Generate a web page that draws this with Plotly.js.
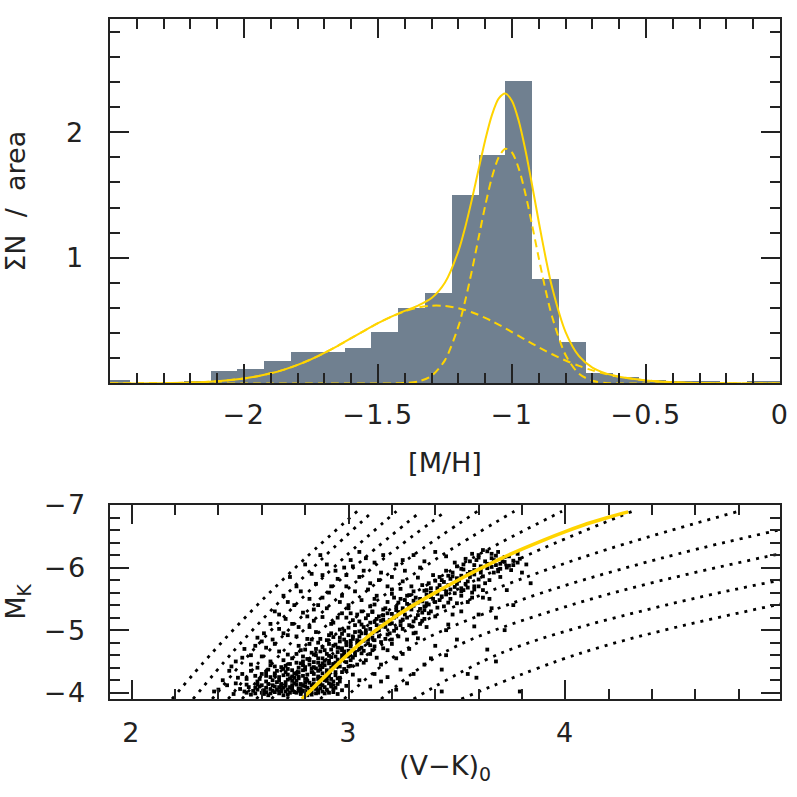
<!DOCTYPE html>
<html>
<head>
<meta charset="utf-8">
<script src="https://cdn.plot.ly/plotly-3.0.1.min.js"></script>
<style>
html,body{margin:0;padding:0;background:#fff;}
#chart{width:797px;height:797px;}
#chart .xtick text, #chart .x2tick text, #chart .ytick text, #chart .y2tick text{letter-spacing:1.5px;}
</style>
</head>
<body>
<div id="chart"></div>
<script>
// ---------- top panel: metallicity distribution ----------
const metalBinCenters = [-2.475,-2.175,-2.075,-1.975,-1.875,-1.775,-1.675,-1.575,-1.475,-1.375,-1.275,-1.175,-1.075,-0.975,-0.875,-0.775,-0.675,-0.575,-0.475,-0.375,-0.275,-0.075,0.025];
const metalBinHeights = [0.025,0.02,0.10,0.115,0.18,0.25,0.25,0.285,0.41,0.60,0.72,1.50,1.82,2.41,0.83,0.33,0.085,0.05,0.03,0.02,0.02,0.02,0.02];

const fitX = [-2.5,-2.4,-2.3,-2.2,-2.1,-2.0,-1.95,-1.9,-1.85,-1.8,-1.75,-1.7,-1.65,-1.6,-1.55,-1.5,-1.45,-1.4,-1.35,-1.3,-1.25,-1.2,-1.175,-1.15,-1.125,-1.1,-1.075,-1.05,-1.025,-1.0,-0.975,-0.95,-0.925,-0.9,-0.875,-0.85,-0.8,-0.75,-0.7,-0.65,-0.6,-0.55,-0.5,-0.45,-0.4,-0.35,-0.3,-0.2,-0.1,0];
const fitNarrow = [0,0,0,0,0,0,0,0,0,0,0,0,0,0,0,0.0001,0.0006,0.0034,0.0161,0.0609,0.1857,0.4542,0.655,0.894,1.155,1.414,1.639,1.798,1.868,1.838,1.712,1.510,1.261,0.997,0.747,0.529,0.226,0.0774,0.0214,0.0047,0.0008,0.0001,0,0,0,0,0,0,0,0];
const fitBroad = [0.0002,0.0008,0.0025,0.0070,0.0175,0.0396,0.0573,0.0807,0.1106,0.1477,0.1921,0.2432,0.2999,0.3602,0.4212,0.4796,0.5319,0.5744,0.6041,0.6187,0.6170,0.5993,0.5848,0.5668,0.5458,0.5221,0.4961,0.4683,0.4391,0.4091,0.3785,0.3479,0.3177,0.2882,0.2597,0.2325,0.1827,0.1397,0.1041,0.0755,0.0533,0.0367,0.0246,0.0160,0.0102,0.0063,0.0038,0.0013,0.0004,0.0001];
const fitTotal = [0.0002,0.0008,0.0025,0.0070,0.0175,0.0396,0.0573,0.0807,0.1106,0.1477,0.1921,0.2432,0.2999,0.3602,0.4212,0.4797,0.5325,0.5778,0.6202,0.6796,0.8027,1.0535,1.2398,1.4608,1.7008,1.9361,2.1351,2.2663,2.3071,2.2471,2.0905,1.8579,1.5787,1.2852,1.0067,0.7615,0.4087,0.2171,0.1255,0.0802,0.0541,0.0368,0.0246,0.0160,0.0102,0.0063,0.0038,0.0013,0.0004,0.0001];

// ---------- bottom panel: CMD ----------
const isoMK = [-3.9,-4.65,-5.4,-6.15,-6.9];
const isoVK = [
 [2.186,2.374,2.579,2.801,3.040],
 [2.283,2.466,2.666,2.881,3.113],
 [2.371,2.552,2.754,2.977,3.221],
 [2.445,2.628,2.838,3.073,3.335],
 [2.509,2.695,2.914,3.165,3.449],
 [2.575,2.770,3.005,3.280,3.595],
 [2.645,2.850,3.105,3.410,3.765],
 [2.715,2.935,3.220,3.570,3.985],
 [2.790,3.035,3.370,3.795,4.310],
 [2.870,3.103,3.503,4.068,4.800],
 [2.980,3.243,3.730,4.443,5.380],
 [3.150,3.444,4.025,4.894,6.050],
 [3.300,3.716,4.463,5.540,6.950],
 [3.520,4.087,4.968,6.160,7.670]
];

const ridgeVK = [2.785,2.90,3.00,3.10,3.20,3.30,3.40,3.50,3.60,3.70,3.80,3.90,4.00,4.10,4.20,4.29];
const ridgeMK = [-3.90,-4.29,-4.62,-4.93,-5.18,-5.40,-5.60,-5.79,-5.97,-6.14,-6.295,-6.44,-6.575,-6.70,-6.805,-6.89];

const stars = [
[2.47,-3.98],[2.52,-4.02],[2.55,-3.97],[2.58,-4.05],[2.60,-4.00],[2.62,-4.08],[2.63,-3.96],[2.65,-4.03],[2.66,-4.10],[2.68,-3.99],[2.69,-4.06],[2.71,-4.02],[2.72,-3.97],[2.73,-4.09],[2.74,-4.04],[2.76,-4.00],[2.77,-4.07],[2.78,-3.98],[2.79,-4.03],[2.80,-4.10],[2.81,-3.96],[2.82,-4.05],[2.83,-4.01],[2.84,-4.08],[2.85,-3.99],[2.86,-4.04],[2.88,-4.02],[2.89,-4.09],[2.91,-4.00],[2.93,-4.06],[2.95,-3.98],[2.97,-4.04],
[2.50,-4.06],[2.54,-4.09],[2.57,-3.99],[2.59,-4.10],[2.61,-4.04],[2.64,-3.99],[2.67,-4.05],[2.70,-4.08],[2.70,-3.96],[2.75,-4.01],[2.78,-4.06],[2.80,-4.02],[2.83,-3.97],[2.87,-4.07],[2.90,-4.05],[2.62,-4.01],[2.56,-4.03],[2.73,-4.00],[2.85,-4.10],[2.92,-4.10],
[2.48,-4.15],[2.53,-4.22],[2.58,-4.13],[2.60,-4.30],[2.62,-4.18],[2.64,-4.25],[2.65,-4.12],[2.67,-4.35],[2.68,-4.20],[2.69,-4.14],[2.70,-4.28],[2.71,-4.17],[2.72,-4.38],[2.73,-4.23],[2.74,-4.12],[2.75,-4.31],[2.76,-4.19],[2.77,-4.26],[2.78,-4.14],[2.79,-4.36],[2.80,-4.22],[2.81,-4.29],[2.82,-4.16],[2.83,-4.33],[2.84,-4.21],[2.85,-4.39],[2.86,-4.26],[2.87,-4.15],[2.88,-4.31],[2.89,-4.20],[2.90,-4.36],[2.91,-4.27],[2.93,-4.18],[2.94,-4.33],[2.96,-4.24],[2.98,-4.38],[2.66,-4.31],[2.72,-4.29],[2.77,-4.33],[2.83,-4.12],[2.70,-4.38],[2.63,-4.37],[2.57,-4.27],[2.55,-4.35],[2.51,-4.30],[2.87,-4.24],[2.92,-4.13],[2.75,-4.24],[2.80,-4.37],[3.02,-4.29],
[2.55,-4.45],[2.60,-4.58],[2.64,-4.50],[2.68,-4.66],[2.71,-4.43],[2.74,-4.55],[2.76,-4.62],[2.78,-4.47],[2.80,-4.69],[2.82,-4.52],[2.84,-4.41],[2.85,-4.60],[2.86,-4.48],[2.87,-4.66],[2.88,-4.55],[2.89,-4.44],[2.90,-4.62],[2.91,-4.51],[2.92,-4.69],[2.93,-4.46],[2.94,-4.58],[2.95,-4.65],[2.96,-4.42],[2.97,-4.54],[2.98,-4.61],[2.99,-4.49],[3.00,-4.67],[3.02,-4.56],[3.04,-4.45],[3.06,-4.63],[3.08,-4.52],[3.11,-4.68],[2.79,-4.58],[2.83,-4.64],[2.87,-4.43],[2.91,-4.59],[2.94,-4.48],[2.97,-4.68],[2.72,-4.61],[2.66,-4.42],[3.01,-4.43],[2.89,-4.68],
[2.66,-4.78],[2.72,-4.92],[2.77,-4.75],[2.81,-4.86],[2.85,-4.97],[2.88,-4.73],[2.90,-4.84],[2.92,-4.95],[2.94,-4.77],[2.96,-4.88],[2.97,-4.71],[2.98,-4.99],[2.99,-4.81],[3.00,-4.92],[3.01,-4.74],[3.02,-4.86],[3.03,-4.97],[3.04,-4.79],[3.05,-4.90],[3.06,-4.72],[3.07,-4.83],[3.08,-4.95],[3.10,-4.76],[3.11,-4.88],[3.13,-4.98],[3.15,-4.81],[3.18,-4.93],[2.93,-4.89],[2.97,-4.94],[3.01,-4.83],[3.05,-4.98],[2.86,-4.80],[3.09,-4.85],[3.21,-4.99],
[2.82,-5.05],[2.88,-5.21],[2.93,-5.12],[2.97,-5.27],[3.00,-5.04],[3.02,-5.16],[3.04,-5.25],[3.06,-5.09],[3.08,-5.19],[3.10,-5.02],[3.11,-5.29],[3.12,-5.13],[3.14,-5.22],[3.15,-5.06],[3.16,-5.17],[3.18,-5.27],[3.19,-5.10],[3.21,-5.20],[3.22,-5.03],[3.24,-5.14],[3.26,-5.25],[3.28,-5.08],[3.31,-5.19],[3.34,-5.28],[3.09,-5.24],[3.13,-5.08],[3.17,-5.12],[3.20,-5.26],[3.05,-5.14],[2.99,-5.20],[3.25,-5.17],[3.23,-5.29],
[3.00,-5.35],[3.06,-5.48],[3.10,-5.38],[3.13,-5.55],[3.16,-5.33],[3.18,-5.45],[3.20,-5.58],[3.22,-5.37],[3.24,-5.50],[3.25,-5.31],[3.27,-5.42],[3.28,-5.56],[3.30,-5.39],[3.31,-5.52],[3.33,-5.34],[3.34,-5.46],[3.36,-5.57],[3.37,-5.41],[3.39,-5.50],[3.41,-5.36],[3.43,-5.54],[3.46,-5.44],[3.49,-5.59],[3.26,-5.48],[3.32,-5.44],[3.35,-5.32],[3.29,-5.33],[3.21,-5.52],[3.38,-5.53],
[3.20,-5.65],[3.25,-5.78],[3.29,-5.70],[3.32,-5.84],[3.35,-5.63],[3.37,-5.75],[3.39,-5.88],[3.41,-5.67],[3.43,-5.80],[3.45,-5.62],[3.46,-5.72],[3.48,-5.86],[3.49,-5.69],[3.51,-5.79],[3.53,-5.64],[3.54,-5.74],[3.56,-5.85],[3.58,-5.70],[3.60,-5.81],[3.63,-5.75],[3.44,-5.77],[3.50,-5.83],[3.40,-5.79],[3.55,-5.68],
[3.45,-5.95],[3.49,-6.08],[3.52,-5.98],[3.54,-6.14],[3.56,-5.93],[3.58,-6.04],[3.60,-6.20],[3.61,-5.97],[3.63,-6.10],[3.64,-6.26],[3.66,-6.01],[3.67,-6.12],[3.69,-5.94],[3.70,-6.06],[3.72,-6.17],[3.74,-6.03],[3.76,-6.11],[3.78,-6.08],[3.62,-6.28],[3.57,-6.22],[3.68,-6.19],[3.75,-5.96],[3.53,-6.05],
[2.62,-4.72],[2.58,-4.88],[2.55,-4.60],[2.68,-5.02],[2.71,-5.18],[2.66,-5.30],[2.75,-5.40],[2.79,-5.28],[2.78,-5.62],[2.82,-5.50],[2.85,-5.74],[2.88,-5.88],[2.91,-5.60],[2.94,-5.95],[2.96,-5.45],[2.99,-5.70],[3.02,-6.02],[3.05,-5.85],[3.08,-6.15],[2.73,-5.85],[2.80,-6.05],[2.87,-6.20],[2.70,-5.55],[2.64,-5.10],[2.61,-4.95],[2.52,-4.70],[2.48,-4.50],[2.45,-4.35],[2.42,-4.20],[2.40,-4.05],[2.76,-4.90],[2.84,-5.15],[2.90,-5.35],[2.97,-5.55],[3.03,-5.62],[3.10,-5.75],[3.15,-5.92],[3.22,-6.05],[3.30,-6.20],[3.12,-5.50],[3.00,-5.40],[2.95,-5.20],[3.18,-5.70],[3.26,-5.95],[3.35,-6.10],[3.40,-6.25],[2.83,-4.85],[2.86,-5.40],[3.07,-5.95],[2.92,-5.10],
[3.10,-4.10],[3.18,-4.25],[3.24,-4.37],[3.32,-4.87],[3.43,-4.37],[3.43,-4.02],[3.46,-5.09],[3.45,-4.60],[3.52,-5.67],[3.58,-5.06],[3.59,-4.24],[3.64,-4.69],[3.68,-5.20],[3.73,-5.64],[3.79,-4.02],[3.36,-5.05],[3.28,-4.70],[3.22,-4.55],[3.15,-4.45],[3.38,-5.30],[3.55,-5.45],[3.62,-5.52],[3.70,-5.85],[3.80,-5.92],[3.66,-5.35],[3.12,-4.30],[3.05,-4.20],[3.30,-4.95],[3.48,-5.25],[3.78,-6.22],[3.20,-4.85],[3.34,-5.15],[3.27,-4.15],
[2.60,-4.12],[2.64,-4.06],[2.67,-4.17],[2.69,-4.02],[2.71,-4.11],[2.74,-4.07],[2.76,-4.13],[2.78,-4.01],[2.81,-4.08],[2.84,-4.14],[2.86,-4.00],[2.88,-4.12],[2.90,-4.19],[2.93,-4.01],[2.95,-4.14],[2.68,-4.25],[2.71,-4.33],[2.74,-4.19],[2.77,-4.40],[2.79,-4.27],[2.82,-4.45],[2.84,-4.30],[2.86,-4.35],[2.88,-4.47],[2.90,-4.24],[2.92,-4.40],[2.94,-4.28],[2.96,-4.50],[2.99,-4.35],[3.01,-4.52],[2.81,-4.54],[2.84,-4.61],[2.86,-4.55],[2.89,-4.51],[2.92,-4.57],[2.95,-4.53],[2.97,-4.60],[3.00,-4.58],[3.03,-4.65],[3.05,-4.70],[2.93,-4.75],[2.96,-4.82],[2.99,-4.76],[3.02,-4.90],[3.04,-4.84],[3.06,-4.95],[3.09,-4.91],[3.12,-4.84],[3.14,-5.00],[3.07,-5.05],[3.10,-5.12],[3.13,-5.18],[3.16,-5.24],[3.19,-5.16],[3.22,-5.22],[3.25,-5.35],[3.28,-5.40],[3.30,-5.47],[3.33,-5.50],[3.36,-5.43],[3.38,-5.60],[3.41,-5.58],[3.44,-5.66],[3.47,-5.65],[3.50,-5.74],[3.52,-5.87],[3.55,-5.90],[3.58,-5.96],[3.61,-6.02],[3.64,-6.06],[3.66,-6.15],[3.71,-6.10],[3.73,-6.00],[3.59,-6.12],[3.48,-5.92],[3.42,-5.72],[3.36,-5.64],[3.23,-5.44],[3.17,-5.35],[3.11,-5.30],[2.98,-4.85],[2.91,-4.78],[2.85,-4.70],[2.79,-4.50],[2.73,-4.46],[2.70,-4.52],[2.76,-4.30],[2.65,-4.20],[2.62,-4.27],[2.58,-4.18],
[2.53,-4.00],[2.57,-4.08],[2.61,-3.98],[2.63,-4.14],[2.66,-4.01],[2.69,-4.12],[2.72,-4.05],[2.75,-4.15],[2.77,-4.03],[2.80,-4.16],[2.82,-4.00],[2.85,-4.06],[2.87,-4.13],[2.89,-3.99],[2.91,-4.15],[2.94,-4.08],[2.96,-4.18],[2.99,-4.11],[2.59,-4.22],[2.62,-4.33],[2.66,-4.28],[2.69,-4.41],[2.72,-4.21],[2.74,-4.36],[2.77,-4.23],[2.79,-4.44],[2.81,-4.19],[2.83,-4.39],[2.86,-4.22],[2.88,-4.41],[2.90,-4.30],[2.93,-4.45],[2.95,-4.23],[2.97,-4.33],[3.00,-4.42],[2.76,-4.48],[2.80,-4.41],[2.84,-4.49],[2.87,-4.37],[2.91,-4.47],[2.64,-4.44],[2.58,-4.40],[2.53,-4.13],[2.49,-4.24],[2.68,-4.09],[2.74,-4.26],[2.79,-4.12],[2.92,-4.22],
[2.95,-4.72],[2.98,-4.66],[3.01,-4.78],[3.03,-4.60],[3.05,-4.82],[3.07,-4.67],[3.09,-4.79],[3.10,-4.62],[3.12,-4.74],[3.14,-4.90],[3.16,-4.71],[3.17,-4.86],[3.19,-4.95],[3.20,-4.78],[3.23,-4.90],[3.25,-5.02],[3.27,-4.85],[3.29,-5.06],[3.31,-4.96],[3.33,-5.10],[3.17,-5.05],[3.20,-5.11],[3.24,-5.08],[3.27,-5.20],[3.30,-5.14],[3.32,-5.24],[3.35,-5.18],[3.37,-5.27],[3.40,-5.22],[3.08,-5.00],[3.03,-5.08],[2.96,-5.01],[2.91,-4.92],[2.87,-4.86],[2.82,-4.78],[2.78,-4.68],[3.13,-4.56],[3.07,-4.48],[3.11,-4.95],[3.15,-5.15],[3.22,-5.32],[3.12,-5.41],[3.06,-5.30],[3.01,-5.27],
[3.35,-5.38],[3.40,-5.45],[3.44,-5.38],[3.47,-5.50],[3.50,-5.43],[3.52,-5.55],[3.45,-5.57],[3.42,-5.48],[3.38,-5.67],[3.47,-5.82],[3.52,-5.62],[3.55,-5.78],[3.57,-5.60],[3.60,-5.70],[3.62,-5.86],[3.65,-5.80],[3.67,-5.92],[3.58,-5.89],[3.53,-5.97],[3.61,-5.92],[3.64,-5.99],[3.68,-6.04],[3.70,-5.98],[3.72,-6.09],[3.76,-6.04],[3.79,-6.14],[3.74,-6.18],[3.69,-6.25],[3.66,-6.22],[3.60,-6.16],[3.56,-6.10],[3.50,-6.02],[3.46,-5.87],[3.42,-5.85],[3.34,-5.72],[3.30,-5.62],[3.27,-5.55],[3.24,-5.66],[3.57,-5.52],[3.62,-5.64],
[2.65,-4.85],[2.70,-4.95],[2.74,-5.10],[2.77,-5.05],[2.81,-5.22],[2.84,-5.33],[2.88,-5.52],[2.92,-5.70],[2.95,-5.82],[2.98,-6.00],[3.01,-6.12],[3.05,-6.25],[3.12,-6.08],[3.16,-6.20],[2.90,-6.05],[2.83,-5.90],[2.76,-5.70],[2.72,-5.45],[2.68,-5.25],[2.60,-4.82],[2.57,-4.75],[2.51,-4.56],[2.46,-4.42],[2.44,-4.12],[2.38,-4.02],[3.20,-5.85],[3.25,-6.12],[3.33,-6.00],[3.45,-6.18],[2.99,-5.88],[3.09,-5.65],[3.14,-5.80],
[3.15,-4.18],[3.22,-4.05],[3.30,-4.30],[3.38,-4.55],[3.50,-4.85],[3.55,-4.30],[3.68,-4.50],[3.72,-5.00],[3.76,-5.40],[3.84,-5.75],[3.40,-4.75],[3.52,-5.30],[3.60,-5.25],[3.25,-4.62],[3.35,-4.45],[3.18,-4.68],[3.45,-5.00],[3.58,-5.65],[3.65,-5.50],[3.82,-6.05]
];

// ---------- styles ----------
const GOLD = '#ffd400';
const INK = '#222222';
const FONT = {family: '"DejaVu Sans", "Liberation Sans", sans-serif', size: 27, color: INK};

const traces = [];
traces.push({type:'bar', x: metalBinCenters, y: metalBinHeights, width: 0.1,
  marker:{color:'#708090', line:{width:0}}, xaxis:'x', yaxis:'y', hoverinfo:'skip'});
traces.push({type:'scatter', mode:'lines', x: fitX, y: fitBroad, xaxis:'x', yaxis:'y',
  line:{color:GOLD, width:2, dash:'8px,5px', shape:'spline', smoothing:0.8}});
traces.push({type:'scatter', mode:'lines', x: fitX, y: fitNarrow, xaxis:'x', yaxis:'y',
  line:{color:GOLD, width:2, dash:'8px,5px', shape:'spline', smoothing:0.8}});
traces.push({type:'scatter', mode:'lines', x: fitX, y: fitTotal, xaxis:'x', yaxis:'y',
  line:{color:GOLD, width:2, shape:'spline', smoothing:0.8}});

isoVK.forEach(function(row){
  traces.push({type:'scatter', mode:'lines', x: row, y: isoMK, xaxis:'x2', yaxis:'y2',
    line:{color:'#000', width:2.8, dash:'3px,6px', shape:'spline', smoothing:1}});
});
traces.push({type:'scatter', mode:'markers', x: stars.map(p=>p[0]), y: stars.map(p=>p[1]),
  xaxis:'x2', yaxis:'y2', marker:{color:'#000', size:3.8, symbol:'square', line:{width:0}}});
traces.push({type:'scatter', mode:'lines', x: ridgeVK, y: ridgeMK, xaxis:'x2', yaxis:'y2',
  line:{color:GOLD, width:3.6, shape:'spline', smoothing:1}});

function axisBase(extra){
  return Object.assign({
    ticks:'inside', ticklen:19, tickwidth:2, tickcolor:INK,
    showline:true, linewidth:2, linecolor:INK, mirror:'ticks',
    showgrid:false, zeroline:false, tickfont:FONT,
    title:{font:FONT}
  }, extra);
}

const layout = {
  width:797, height:797,
  margin:{l:110, r:17, t:19, b:98},
  paper_bgcolor:'#fff', plot_bgcolor:'#fff',
  showlegend:false, bargap:0, font:FONT,
  xaxis: axisBase({domain:[0,1], anchor:'y', range:[-2.5,0], tickmode:'array',
    tickvals:[-2,-1.5,-1,-0.5,0], ticktext:['\u22122','\u22121.5','\u22121','\u22120.5','0'],
    minor:{ticks:'inside', ticklen:10, tickwidth:2, tickcolor:INK, dtick:0.1, tick0:0, showgrid:false},
    ticklabelstandoff:6,
    title:{text:'[M/H]', font:FONT, standoff:24}}),
  yaxis: axisBase({domain:[0.464,1], anchor:'x', range:[0,2.9], tickmode:'array',
    tickvals:[1,2], ticktext:['1','2'],
    minor:{ticks:'inside', ticklen:10, tickwidth:2, tickcolor:INK, dtick:0.2, tick0:0, showgrid:false},
    ticklabelstandoff:18,
    title:{text:'\u03a3N  /  area', font:FONT, standoff:38}}),
  xaxis2: axisBase({domain:[0,1], anchor:'y2', range:[1.9,4.99], tickmode:'array',
    tickvals:[2,3,4], ticktext:['2','3','4'],
    minor:{ticks:'inside', ticklen:10, tickwidth:2, tickcolor:INK, dtick:0.2, tick0:0, showgrid:false},
    ticklabelstandoff:9,
    title:{text:'(V\u2212K)<sub>0</sub>', font:FONT, standoff:9}}),
  yaxis2: axisBase({domain:[0,0.2853], anchor:'x2', range:[-3.9,-7], tickmode:'array',
    tickvals:[-7,-6,-5,-4], ticktext:['\u22127','\u22126','\u22125','\u22124'],
    minor:{ticks:'inside', ticklen:10, tickwidth:2, tickcolor:INK, dtick:0.2, tick0:0, showgrid:false},
    ticklabelstandoff:16,
    title:{text:'M<sub>K</sub>', font:FONT, standoff:20}})
};

Plotly.newPlot('chart', traces, layout, {staticPlot:true, displayModeBar:false});
</script>
</body>
</html>
